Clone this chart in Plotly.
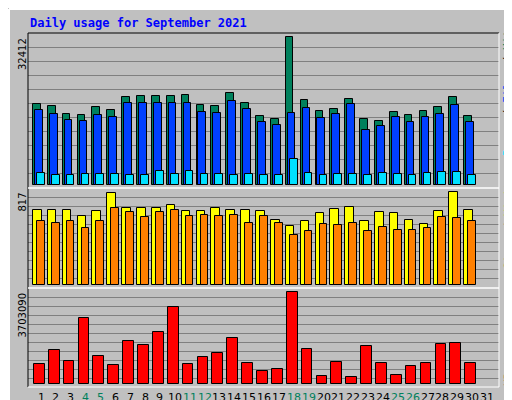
import plotly.graph_objects as go

days = list(range(1, 31))
hits = [17673, 17233, 15473, 15253, 17013, 16353, 19213, 19432, 19432, 19432,
        19652, 17453, 17233, 20093, 17893, 15033, 14373, 32412, 18553, 16133,
        16573, 18773, 14373, 13933, 15913, 15253, 16133, 17013, 19213, 15033]
files = [16353, 15473, 14153, 13933, 15253, 14813, 17893, 17893, 17893, 17893,
         17893, 15913, 15693, 18333, 16573, 13713, 13053, 15693, 16793, 14593,
         15473, 17673, 11953, 12833, 14813, 13713, 14813, 15473, 17453, 13713]
pages = [2567, 2127, 2127, 2347, 2347, 2347, 2127, 2127, 3007, 2347,
         3007, 2347, 2347, 2127, 2347, 2127, 2127, 5647, 2567, 2127,
         2347, 2347, 2127, 2567, 2347, 2127, 2567, 2787, 2787, 2127]
visits = [658, 658, 658, 605, 649, 808, 675, 675, 675, 702,
          649, 649, 675, 658, 658, 649, 569, 516, 560, 631,
          666, 684, 560, 640, 631, 569, 534, 649, 817, 658]
sites = [560, 543, 560, 498, 560, 675, 640, 596, 640, 658,
         605, 613, 605, 613, 543, 605, 543, 436, 472, 534,
         525, 543, 472, 507, 481, 481, 498, 596, 587, 560]
kbytes = [783870, 1351500, 905505, 2648940, 1108230, 743325, 1716405, 1554225, 2081310, 3094935,
          783870, 1067685, 1229865, 1838040, 824415, 500055, 581145, 3703090, 1392045, 297330,
          864960, 256785, 1513680, 824415, 337875, 702780, 824415, 1594770, 1635315, 824415]
day_labels = [str(d) for d in range(1, 32)]
weekend = {4, 5, 11, 12, 18, 19, 25, 26}

GREEN, BLUE, CYAN = "#00805C", "#0040FF", "#00E0FF"
YELLOW, ORANGE, RED = "#FFFF00", "#FF8000", "#FF0000"
BG = "#C0C0C0"

def bars(vals, off, width, color, xa, ya):
    return go.Bar(x=[d + off for d in days], y=vals, width=width,
                  marker=dict(color=color, line=dict(color="black", width=1)),
                  xaxis=xa, yaxis=ya, hoverinfo="y", showlegend=False)

fig = go.Figure()
fig.add_trace(bars(hits, -0.28, 0.52, GREEN, "x", "y"))
fig.add_trace(bars(files, -0.15, 0.52, BLUE, "x", "y"))
fig.add_trace(bars(pages, -0.01, 0.52, CYAN, "x", "y"))
fig.add_trace(bars(visits, -0.25, 0.58, YELLOW, "x2", "y2"))
fig.add_trace(bars(sites, -0.01, 0.52, ORANGE, "x2", "y2"))
fig.add_trace(bars(kbytes, -0.11, 0.72, RED, "x3", "y3"))

xr = [0.126, 31.8]
xcommon = dict(range=xr, showgrid=False, zeroline=False, showline=False, showticklabels=False)
grid = dict(showgrid=True, gridcolor="#808080", gridwidth=1, zeroline=False,
            showticklabels=False, ticks="", showline=False)

fig.update_layout(
    width=512, height=400, margin=dict(l=0, r=0, t=0, b=0),
    paper_bgcolor=BG, plot_bgcolor=BG, barmode="overlay", bargap=0,
    font=dict(family="DejaVu Sans", size=11, color="black"),
    xaxis=dict(**xcommon, domain=[20/512, 491/512], anchor="y"),
    xaxis2=dict(**xcommon, domain=[20/512, 491/512], anchor="y2"),
    xaxis3=dict(**xcommon, domain=[20/512, 491/512], anchor="y3"),
    yaxis=dict(**grid, domain=[1-180/400, 1-25/400], range=[-726, 33374],
               tick0=2493, dtick=3080),
    yaxis2=dict(**grid, domain=[1-280/400, 1-180/400], range=[-29, 855],
                tick0=56, dtick=79.6),
    yaxis3=dict(**grid, domain=[1-378.7/400, 1-280/400], range=[-121635, 3880157],
                tick0=216240, dtick=364905),
)

def px_line(x0, y0, x1, y1, color, w=1):
    fig.add_shape(type="line", xref="paper", yref="paper",
                  x0=x0/512, x1=x1/512, y0=1-y0/400, y1=1-y1/400,
                  line=dict(color=color, width=w))

# outer bevel
px_line(1, 1, 511, 1, "white", 2)
px_line(1, 1, 1, 399, "white", 2)
px_line(511, 1, 511, 399, "#808080", 3)
px_line(1, 399, 511, 399, "#808080", 3)
# plot frame
px_line(20, 25, 491, 25, "black")
px_line(20, 25, 20, 379, "black")
px_line(491, 25, 491, 379, "white")
px_line(20, 379, 491, 379, "white")
px_line(20, 180, 491, 180, "white", 1.5)
px_line(20, 280, 491, 280, "white", 1.5)

ann = []
ann.append(dict(text="<b>Daily usage for September 2021</b>", x=20/512, y=1-15/400,
                xanchor="left", yanchor="middle",
                font=dict(family="DejaVu Sans Mono", size=12, color="#0000FF")))
for txt, top in [("32412", 28), ("817", 183), ("3703090", 283)]:
    ann.append(dict(text=txt, x=14/512, y=1-top/400, textangle=-90,
                    xanchor="center", yanchor="top",
                    font=dict(family="DejaVu Sans", size=10, color="black")))
# day labels along the bottom
for lbl in day_labels:
    d = int(lbl)
    ann.append(dict(text=lbl, x=d, xref="x3", y=1-389/400, yref="paper",
                    xanchor="center", yanchor="middle",
                    font=dict(family="DejaVu Sans", size=11,
                              color=GREEN if d in weekend else "black")))
right = [
    (f'<span style="color:{CYAN}">Pages</span> / <span style="color:{BLUE}">Files</span> / <span style="color:{GREEN}">Hits</span>', 82),
    (f'<span style="color:{ORANGE}">Sites</span> / <span style="color:{YELLOW}">Visits</span>', 215),
    (f'<span style="color:{RED}">KBytes</span>', 358),
]
for txt, yc in right:
    ann.append(dict(text=txt, x=500/512, y=1-yc/400, textangle=-90,
                    xanchor="center", yanchor="middle",
                    font=dict(family="DejaVu Sans Mono", size=11, color="black")))
for a in ann:
    a.setdefault("xref", "paper")
    a.setdefault("yref", "paper")
    a["showarrow"] = False
fig.update_layout(annotations=ann)

fig.write_html("out.html")
